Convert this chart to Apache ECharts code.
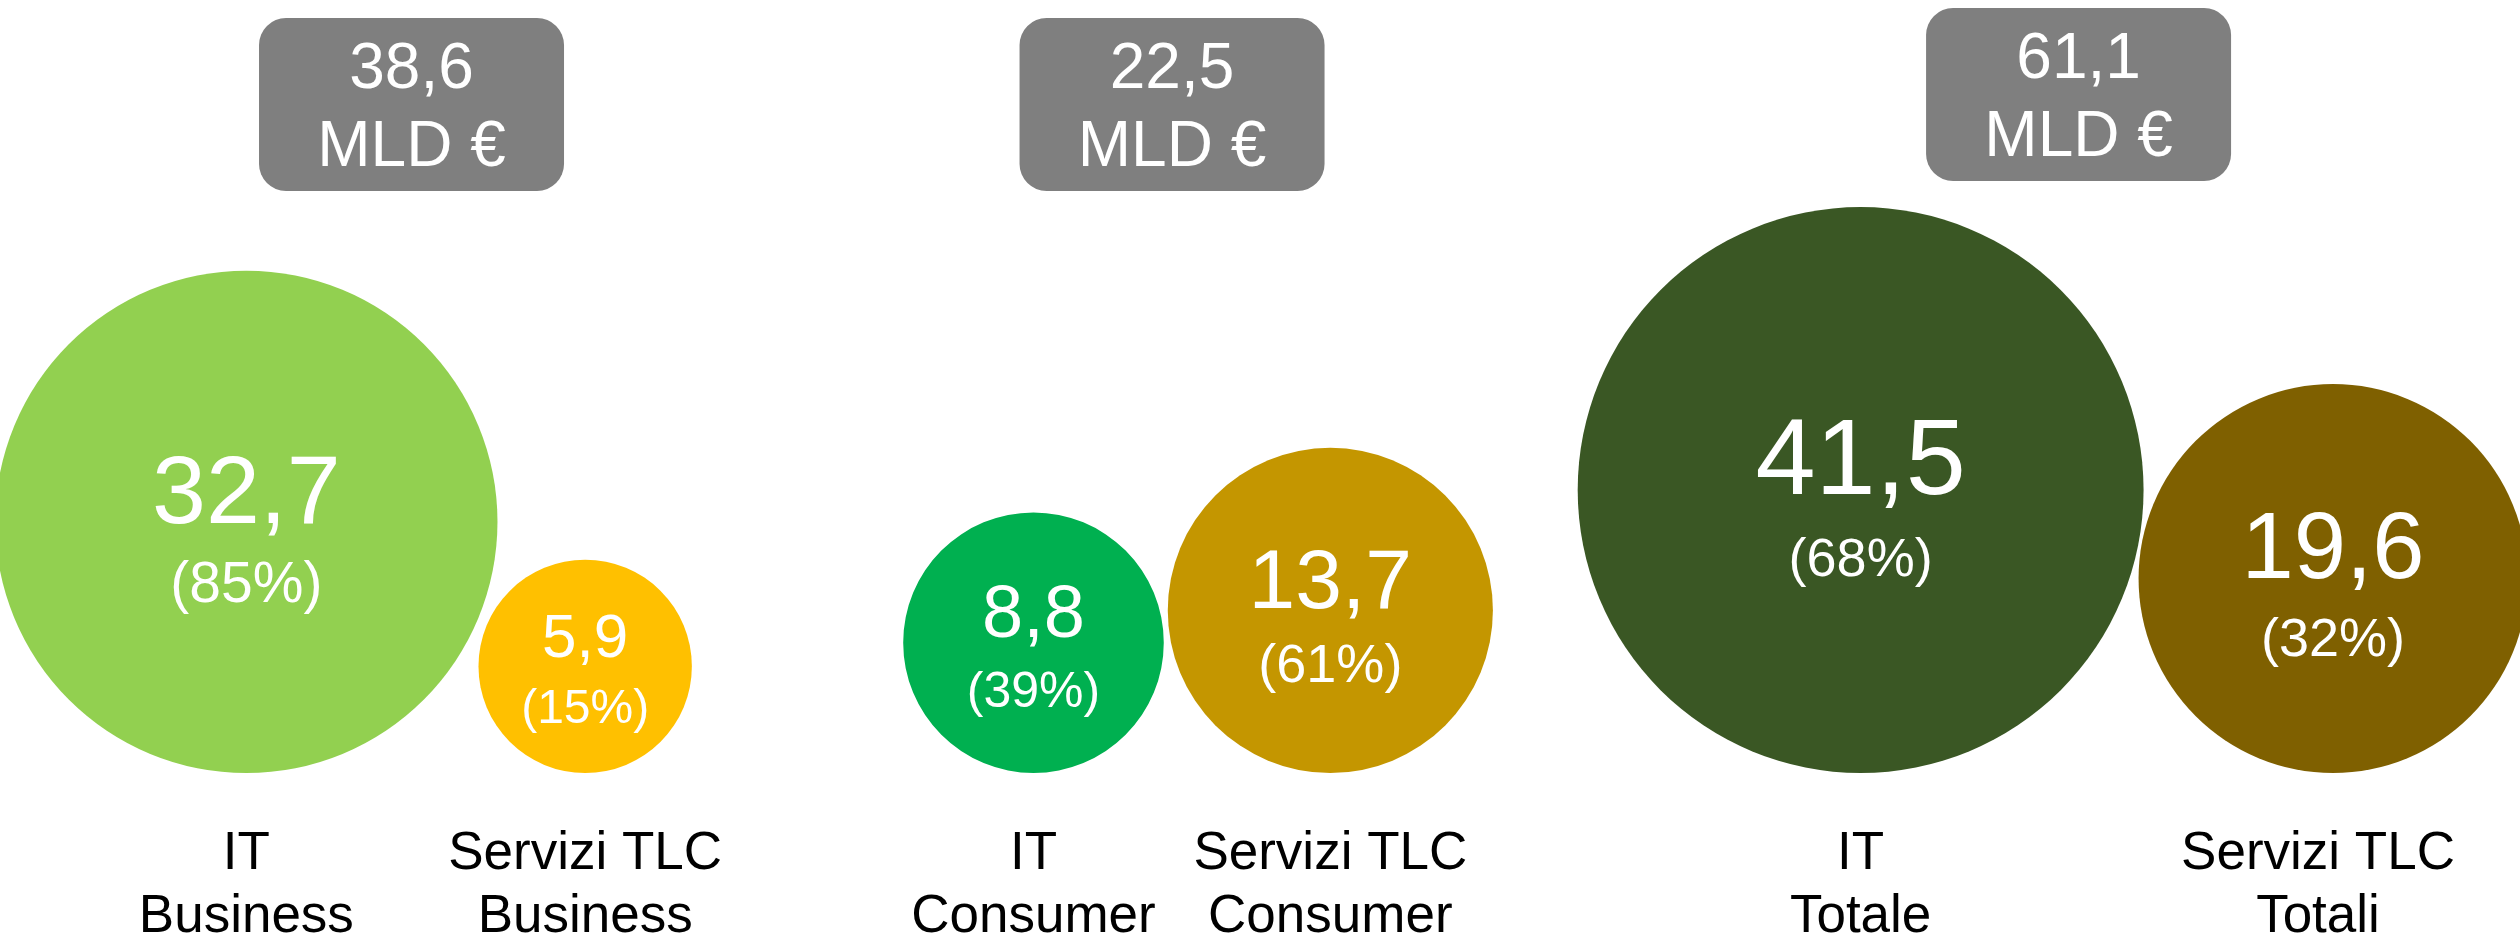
<!DOCTYPE html>
<html>
<head>
<meta charset="utf-8">
<title>IT e Servizi TLC</title>
<script src="https://cdn.jsdelivr.net/npm/echarts@6/dist/echarts.min.js"></script>
<style>
  html, body { margin: 0; padding: 0; background: #ffffff; }
  #chart { width: 2520px; height: 941px; }
</style>
</head>
<body>
<div id="chart"></div>
<script>
// values (MLD €)
const groups = ["Business", "Consumer", "Totale"];
const itValues = [32.7, 8.8, 41.5];
const tlcValues = [5.9, 13.7, 19.6];
const itShares = [85, 39, 68];
const tlcShares = [15, 61, 32];
const totals = [38.6, 22.5, 61.1];
const itLabels = ["IT\nBusiness", "IT\nConsumer", "IT\nTotale"];
const tlcLabels = ["Servizi TLC\nBusiness", "Servizi TLC\nConsumer", "Servizi TLC\nTotali"];

// styles
const itColors = ["#92D050", "#00B050", "#3A5724"];
const tlcColors = ["#FFC000", "#C49600", "#7F6000"];
const itValueFont = [97, 74, 108];
const tlcValueFont = [62, 84, 94];
const itPctFont = [57, 50, 54];
const tlcPctFont = [48, 54, 54];
const pairGap = [-19, 4, -5];
const boxShiftX = [68, -26, 26];
const boxShiftY = [0, 0, -10];

const FONT = "'Liberation Sans', Arial, Helvetica, sans-serif";
const fmt = (v) => v.toFixed(1).replace(".", ",");

const chart = echarts.init(document.getElementById("chart"));

function bubble(cx, cy, r, color, value, share, fv, fp) {
  return [
    { type: "circle", shape: { cx: cx, cy: cy, r: r }, style: { fill: color } },
    {
      type: "text",
      style: {
        text: fmt(value), x: cx, y: cy - 26, fill: "#ffffff",
        fontSize: fv, fontFamily: FONT, align: "center", verticalAlign: "middle"
      }
    },
    {
      type: "text",
      style: {
        text: "(" + share + "%)", x: cx, y: cy + 0.6 * fv + 6, fill: "#ffffff",
        fontSize: fp, fontFamily: FONT, align: "center", verticalAlign: "middle"
      }
    }
  ];
}

function caption(x, y, text) {
  return {
    type: "text",
    style: {
      text: text, x: x, y: y, fill: "#000000", fontSize: 53, lineHeight: 63,
      fontFamily: FONT, align: "center", verticalAlign: "middle"
    }
  };
}

function renderItem(params, api) {
  const g = api.value(0);
  const vA = api.value(1);
  const vB = api.value(2);
  const base = api.coord([g, 0]);
  // radius from the y scale: area proportional to the value
  const rA = api.size([0, Math.sqrt(vA)])[1];
  const rB = api.size([0, Math.sqrt(vB)])[1];
  const gap = pairGap[g];
  const width = 2 * rA + 2 * rB + gap;
  const left = base[0] - width / 2;
  const cxA = left + rA;
  const cxB = left + 2 * rA + gap + rB;
  const W = params.coordSys.x + params.coordSys.width;

  const boxW = 305, boxH = 173;
  const boxX = base[0] + boxShiftX[g] - boxW / 2;
  const boxY = 18 + boxShiftY[g];

  const tlcHalf = 138;
  const tlcLabelX = Math.min(cxB, W - tlcHalf - 64);

  const children = []
    .concat(bubble(cxA, base[1] - rA, rA, itColors[g], vA, itShares[g], itValueFont[g], itPctFont[g]))
    .concat(bubble(cxB, base[1] - rB, rB, tlcColors[g], vB, tlcShares[g], tlcValueFont[g], tlcPctFont[g]))
    .concat([
      caption(cxA, base[1] + 113, itLabels[g]),
      caption(tlcLabelX, base[1] + 113, tlcLabels[g]),
      {
        type: "rect",
        shape: { x: boxX, y: boxY, width: boxW, height: boxH, r: 27 },
        style: { fill: "#7F7F7F" }
      },
      {
        type: "text",
        style: {
          text: fmt(totals[g]) + "\nMLD €", x: boxX + boxW / 2, y: boxY + boxH / 2 + 5,
          fill: "#ffffff", fontSize: 64, lineHeight: 78, fontFamily: FONT,
          align: "center", verticalAlign: "middle"
        }
      }
    ]);
  return { type: "group", children: children };
}

const seriesData = groups.map((name, i) => ({
  name: name,
  value: [i, itValues[i], tlcValues[i]]
}));

const option = {
  backgroundColor: "#ffffff",
  animation: false,
  grid: { left: 0, right: 0, top: 0, bottom: 168 },
  xAxis: { type: "value", min: -0.402, max: 2.547, show: false },
  yAxis: { type: "value", min: 0, max: 17.6, show: false },
  series: [
    {
      type: "custom",
      clip: false,
      silent: true,
      renderItem: renderItem,
      data: seriesData
    }
  ]
};

chart.setOption(option);
window.addEventListener("resize", () => chart.resize());
</script>
</body>
</html>
